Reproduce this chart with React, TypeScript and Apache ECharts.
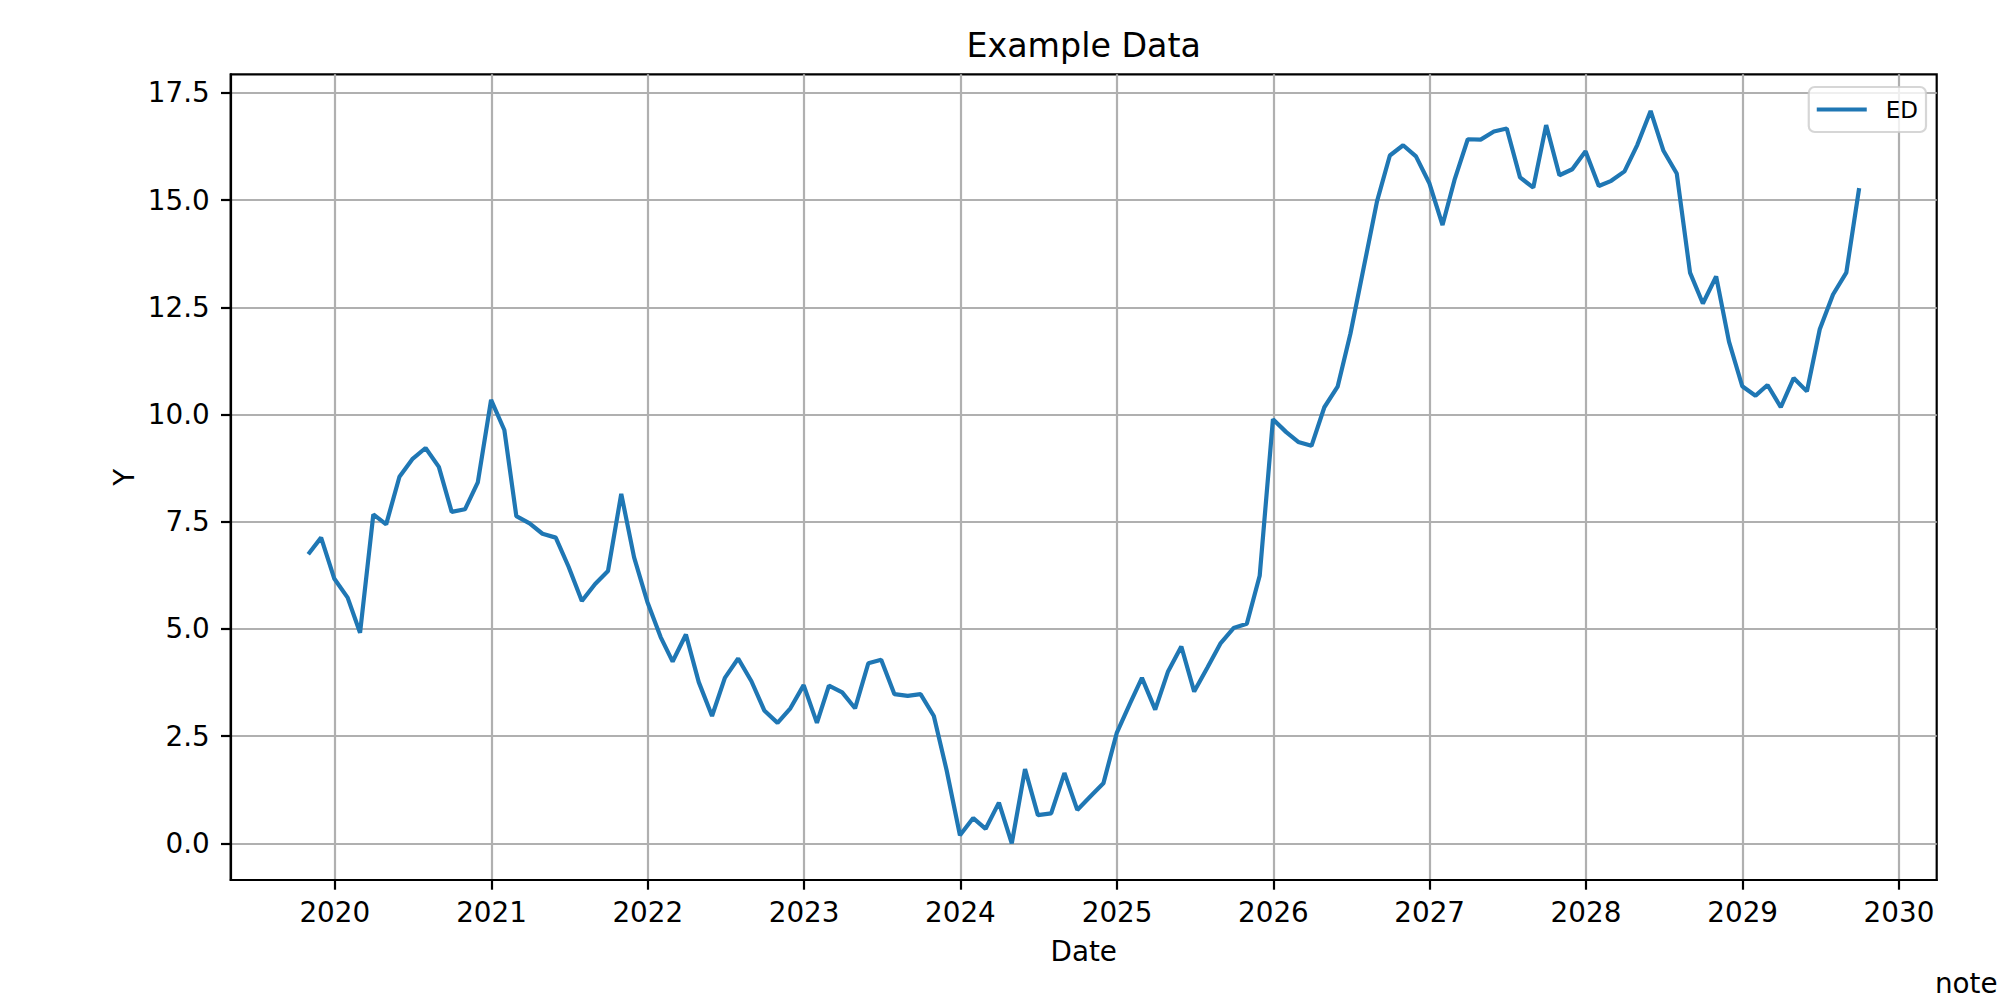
import React, { useEffect, useRef } from "react";
import * as echarts from "echarts";

// Month-end observations, starting October 2019
const START_YEAR = 2019;
const START_MONTH = 9; // 0-based: October
const v2019 = [6.74, 7.13, 6.17];
const v2020 = [5.73, 4.91, 7.67, 7.44, 8.55, 8.96, 9.22, 8.78, 7.73, 7.79, 8.42, 10.34];
const v2021 = [9.64, 7.63, 7.46, 7.22, 7.13, 6.45, 5.65, 6.05, 6.35, 8.15, 6.67, 5.63];
const v2022 = [4.81, 4.24, 4.87, 3.76, 2.97, 3.86, 4.31, 3.78, 3.1, 2.81, 3.15, 3.69];
const v2023 = [2.81, 3.68, 3.52, 3.15, 4.2, 4.28, 3.48, 3.44, 3.48, 2.97, 1.7, 0.19];
const v2024 = [0.59, 0.34, 0.95, 0.0, 1.73, 0.66, 0.7, 1.64, 0.78, 1.1, 1.4, 2.57];
const v2025 = [3.26, 3.86, 3.12, 4.01, 4.59, 3.54, 4.1, 4.67, 5.02, 5.12, 6.24, 9.89];
const v2026 = [9.59, 9.36, 9.27, 10.17, 10.65, 11.89, 13.43, 14.97, 16.04, 16.28, 16.02, 15.4];
const v2027 = [14.42, 15.47, 16.42, 16.41, 16.6, 16.67, 15.53, 15.29, 16.75, 15.58, 15.72, 16.14];
const v2028 = [15.33, 15.45, 15.67, 16.29, 17.08, 16.15, 15.62, 13.31, 12.59, 13.22, 11.7, 10.66];
const v2029 = [10.44, 10.69, 10.17, 10.85, 10.54, 11.99, 12.8, 13.31, 15.28];

const values = [
  ...v2019, ...v2020, ...v2021, ...v2022, ...v2023, ...v2024,
  ...v2025, ...v2026, ...v2027, ...v2028, ...v2029,
];

const xTickYears = [2020, 2021, 2022, 2023, 2024, 2025, 2026, 2027, 2028, 2029, 2030];
const yTicks = [0, 2.5, 5, 7.5, 10, 12.5, 15, 17.5];

const TITLE = "Example Data";
const X_NAME = "Date";
const Y_NAME = "Y";
const SERIES_NAME = "ED";
const NOTE = "note";

const FONT = "DejaVu Sans";

export default function App() {
  const ref = useRef<HTMLDivElement>(null);

  useEffect(() => {
    if (!ref.current) return;
    const chart = echarts.init(ref.current, null, { renderer: "svg" });

    const dates = values.map((_, i) => Date.UTC(START_YEAR, START_MONTH + i + 1, 0));
    const data = values.map((v, i) => [dates[i], v]);
    const xSpan = dates[dates.length - 1] - dates[0];
    const xMin = dates[0] - 0.05 * xSpan;
    const xMax = dates[dates.length - 1] + 0.05 * xSpan;
    const yLo = Math.min(...values);
    const yHi = Math.max(...values);
    const yMin = yLo - 0.05 * (yHi - yLo);
    const yMax = yHi + 0.05 * (yHi - yLo);
    const xTicks = xTickYears.map((y) => Date.UTC(y, 0, 1));

    const left = 230.7;
    const right = 63.3;
    const top = 74.3;
    const bottom = 120;
    const plotCx = left + (2000 - left - right) / 2;
    const plotCy = top + (1000 - top - bottom) / 2;

    const axisLine = {
      show: true,
      onZero: false,
      lineStyle: { color: "#000000", width: 2.2 },
    };
    const tick = (vals: number[]) => ({
      show: true,
      inside: false,
      length: 9.7,
      lineStyle: { color: "#000000", width: 2.2 },
      customValues: vals,
    });

    chart.setOption({
      animation: false,
      backgroundColor: "#ffffff",
      textStyle: { fontFamily: FONT },
      grid: {
        left,
        right,
        top,
        bottom,
        show: true,
        borderColor: "#000000",
        borderWidth: 2.2,
        backgroundColor: "transparent",
        containLabel: false,
      },
      legend: {
        data: [{ name: SERIES_NAME, icon: "rect" }],
        right: 74,
        top: 87,
        itemWidth: 50,
        itemHeight: 4.2,
        padding: [11, 8, 11, 8],
        backgroundColor: "rgba(255,255,255,0.8)",
        borderColor: "rgba(204,204,204,0.8)",
        borderWidth: 2.2,
        borderRadius: 6,
        itemStyle: { color: "#1f77b4", borderWidth: 0 },
        textStyle: {
          fontFamily: FONT,
          fontSize: 23,
          color: "#000000",
          lineHeight: 23,
          padding: [0, 0, 0, 14],
        },
      },
      xAxis: {
        type: "value",
        min: xMin,
        max: xMax,
        axisLine,
        axisTick: tick(xTicks),
        axisLabel: {
          customValues: xTicks,
          formatter: (v: number) => String(new Date(v).getUTCFullYear()),
          fontFamily: FONT,
          fontSize: 27.8,
          color: "#000000",
          margin: 18,
        },
        splitLine: { show: true, lineStyle: { color: "#b0b0b0", width: 2.2 } },
      },
      yAxis: {
        type: "value",
        min: yMin,
        max: yMax,
        axisLine,
        axisTick: tick(yTicks),
        axisLabel: {
          customValues: yTicks,
          formatter: (v: number) => v.toFixed(1),
          fontFamily: FONT,
          fontSize: 27.8,
          color: "#000000",
          margin: 21,
        },
        splitLine: { show: true, lineStyle: { color: "#b0b0b0", width: 2.2 } },
      },
      series: [
        {
          name: SERIES_NAME,
          type: "line",
          data,
          symbol: "none",
          showSymbol: false,
          lineStyle: { color: "#1f77b4", width: 4.2 },
          itemStyle: { color: "#1f77b4" },
          z: 3,
        },
      ],
      graphic: [
        {
          type: "text",
          x: plotCx,
          y: 45.8,
          style: {
            text: TITLE,
            fontFamily: FONT,
            fontSize: 33.3,
            fill: "#000000",
            align: "center",
            verticalAlign: "middle",
          },
        },
        {
          type: "text",
          x: plotCx,
          y: 951,
          style: {
            text: X_NAME,
            fontFamily: FONT,
            fontSize: 27.8,
            fill: "#000000",
            align: "center",
            verticalAlign: "middle",
          },
        },
        {
          type: "text",
          x: 124.5,
          y: plotCy,
          rotation: Math.PI / 2,
          style: {
            text: Y_NAME,
            fontFamily: FONT,
            fontSize: 27.8,
            fill: "#000000",
            align: "center",
            verticalAlign: "middle",
          },
        },
        {
          type: "text",
          x: 1935,
          y: 983.7,
          style: {
            text: NOTE,
            fontFamily: FONT,
            fontSize: 27.8,
            fill: "#000000",
            align: "left",
            verticalAlign: "middle",
          },
        },
      ],
    });

    return () => {
      chart.dispose();
    };
  }, []);

  return (
    <div
      ref={ref}
      style={{ position: "fixed", left: 0, top: 0, width: 2000, height: 1000 }}
    />
  );
}
